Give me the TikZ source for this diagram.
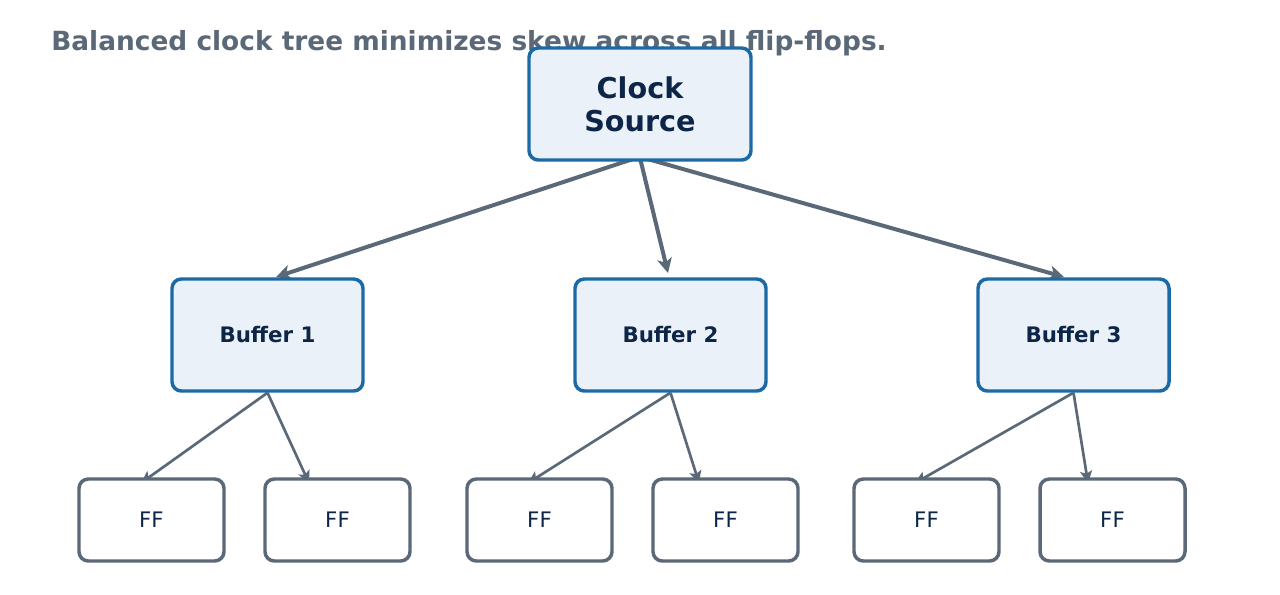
\documentclass[tikz,border=0pt]{standalone}
\usepackage{fontspec}
\setmainfont{DejaVu Sans}
\usetikzlibrary{arrows.meta}
\definecolor{edge}{HTML}{5A6878}
\definecolor{blu}{HTML}{1B6AA5}
\definecolor{fillb}{HTML}{EAF1F8}
\definecolor{txt}{HTML}{0D2547}
\pgfdeclarelayer{bg}\pgfsetlayers{bg,main}
\tikzset{
 px/.style={x=0.75pt,y=-0.75pt},
 bufbox/.style={draw=blu,fill=fillb,line width=2.6pt,rounded corners=7pt,minimum width=191*0.75pt,minimum height=112*0.75pt,text=txt,font=\bfseries\fontsize{16}{19}\selectfont},
 ffbox/.style={draw=edge,fill=white,line width=2.6pt,rounded corners=7pt,minimum width=145*0.75pt,minimum height=82*0.75pt,text=txt,font=\fontsize{16}{19}\selectfont},
 big/.style={edge,line width=3pt,-{Stealth[length=11pt,width=11pt,inset=3pt]}},
 small/.style={edge,line width=2pt,-{Stealth[length=9pt,width=9pt,inset=2pt]}},
}
\begin{document}
\begin{tikzpicture}[px]
\begin{pgfonlayer}{bg}
\useasboundingbox[fill=white] (0,0) rectangle (1280,594);
\end{pgfonlayer}
\node[anchor=west,inner sep=0pt,text=edge,font=\bfseries\fontsize{19.8}{23}\selectfont] (title) at (51,43) {Balanced clock tree minimizes skew across all flip-flops.};
\node[bufbox,minimum width=222*0.75pt,align=center,font=\bfseries\fontsize{21.5}{24.5}\selectfont] (cs) at (640,104) {Clock\\Source};
\node[bufbox] (b1) at (267.5,335) {Buffer 1};
\node[bufbox] (b2) at (670.5,335) {Buffer 2};
\node[bufbox] (b3) at (1073.5,335) {Buffer 3};
\foreach \n/\x in {f1/151.5,f2/337.5,f3/539.5,f4/725.5,f5/926.5,f6/1112.5}
  \node[ffbox] (\n) at (\x,520) {FF};
\coordinate (c1) at (636,158);
\coordinate (c2) at (640,158);
\coordinate (c3) at (644,158);
\begin{pgfonlayer}{bg}
\draw[big] (c1) -- (276,277);
\draw[big] (c2) -- (668,273);
\draw[big] (c3) -- (1064,277);
\draw[small] (b1.south) -- (141,483);
\draw[small] (b1.south) -- (309,483);
\draw[small] (b2.south) -- (528,483);
\draw[small] (b2.south) -- (699,483);
\draw[small] (b3.south) -- (915,483);
\draw[small] (b3.south) -- (1088,483);
\end{pgfonlayer}
\end{tikzpicture}
\end{document}
